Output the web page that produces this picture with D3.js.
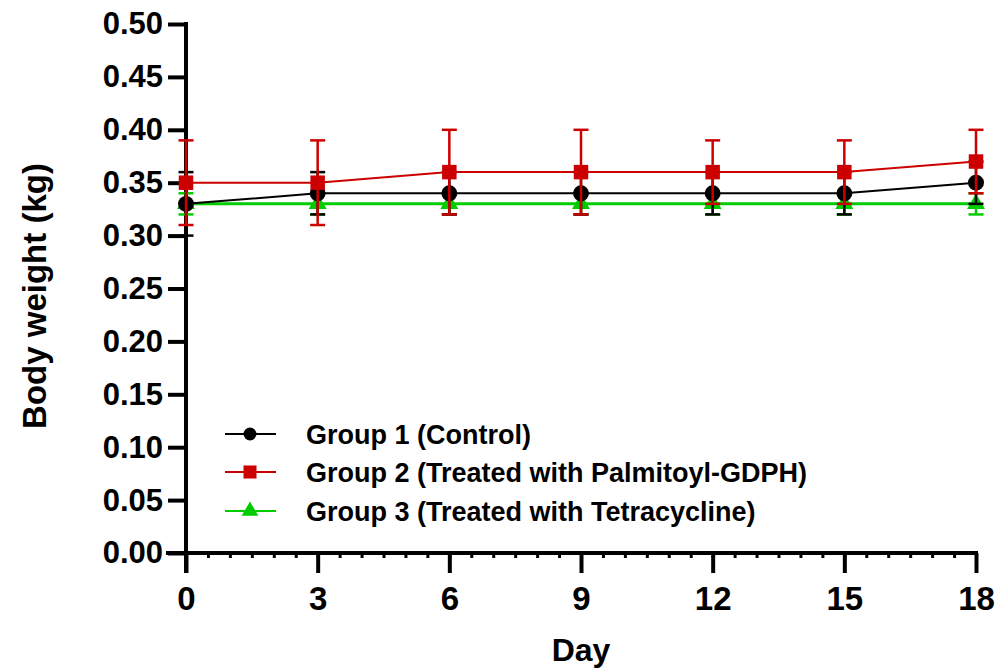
<!DOCTYPE html>
<html><head><meta charset="utf-8">
<script src="https://cdn.jsdelivr.net/npm/d3@7"></script>
<style>body{margin:0;background:#fff}svg{display:block}text{font-family:"Liberation Sans",Arial,sans-serif;font-weight:bold;fill:#000}</style>
</head><body><svg id="c" width="1005" height="670"></svg>
<script>
const days = [0, 3, 6, 9, 12, 15, 18];
const g1Mean = [0.33, 0.34, 0.34, 0.34, 0.34, 0.34, 0.35];
const g1Err  = [0.03, 0.02, 0.02, 0.02, 0.02, 0.02, 0.02];
const g2Mean = [0.35, 0.35, 0.36, 0.36, 0.36, 0.36, 0.37];
const g2Err  = [0.04, 0.04, 0.04, 0.04, 0.03, 0.03, 0.03];
const g3Mean = [0.33, 0.33, 0.33, 0.33, 0.33, 0.33, 0.33];
const g3Err  = [0.01, 0.01, 0.01, 0.01, 0.01, 0.01, 0.01];
const yTicks = [0, 0.05, 0.10, 0.15, 0.20, 0.25, 0.30, 0.35, 0.40, 0.45, 0.50];
const seriesNames = ["Group 1 (Control)", "Group 2 (Treated with Palmitoyl-GDPH)", "Group 3 (Treated with Tetracycline)"];
const colors = ["#000000", "#cc0000", "#00cc00"];

const svg = d3.select("#c");
const x = d3.scaleLinear().domain([0, 18]).range([186, 976]);
const y = d3.scaleLinear().domain([0, 0.5]).range([553, 24]);
const FONT = '"Liberation Sans",Arial,sans-serif';

const series = [
  {name: seriesNames[0], mean: g1Mean, err: g1Err, color: colors[0], shape: "circle", lw: 2, size: 200, legSize: 130},
  {name: seriesNames[1], mean: g2Mean, err: g2Err, color: colors[1], shape: "square", lw: 2, size: 210, legSize: 170},
  {name: seriesNames[2], mean: g3Mean, err: g3Err, color: colors[2], shape: "triangle", lw: 3, size: 140, legSize: 120}
];
const symType = {circle: d3.symbolCircle, square: d3.symbolSquare, triangle: d3.symbolTriangle};

// axes
const yAxis = d3.axisLeft(y).tickValues(yTicks).tickFormat(d3.format(".2f")).tickSize(18).tickPadding(5);
const gy = svg.append("g").attr("transform", `translate(${x(0)},0)`).call(yAxis);
gy.select(".domain").attr("stroke-width", 4).attr("d", `M0,${y(0.5) - 2}V${y(0) + 20}`);
gy.selectAll(".tick line").attr("stroke-width", 4);
gy.selectAll(".tick text").style("font-size", "31px").style("font-family", FONT).style("font-weight", "bold");

const minorX = d3.range(0, 18.01, 0.5);
const gxm = svg.append("g").attr("transform", `translate(0,${y(0)})`)
  .call(d3.axisBottom(x).tickValues(minorX).tickSize(5).tickFormat(""));
gxm.select(".domain").remove();
gxm.selectAll(".tick line").attr("stroke-width", 3);

const xAxis = d3.axisBottom(x).tickValues(days).tickSize(20).tickPadding(14);
const gx = svg.append("g").attr("transform", `translate(0,${y(0)})`).call(xAxis);
gx.select(".domain").attr("stroke-width", 4).attr("d", `M${x(0) - 20},0H${x(18) + 2}`);
gx.selectAll(".tick line").attr("stroke-width", 4);
gx.selectAll(".tick text").style("font-size", "33px").style("font-family", FONT).style("font-weight", "bold");

// titles
svg.append("text").attr("x", (x(0) + x(18)) / 2).attr("y", 661).attr("text-anchor", "middle").style("font-size", "32px").text("Day");
svg.append("text").attr("transform", `translate(46,296) rotate(-90)`).attr("text-anchor", "middle").style("font-size", "33px").text("Body weight (kg)");

// data
const line = d3.line().x((d, i) => x(days[i])).y(d => y(d));
const order = [2, 0, 1];
order.forEach(k => {
  const s = series[k];
  const g = svg.append("g");
  g.append("path").attr("d", line(s.mean)).attr("fill", "none").attr("stroke", s.color).attr("stroke-width", s.lw);
  days.forEach((d, i) => {
    const cx = x(d), lo = y(s.mean[i] - s.err[i]), hi = y(s.mean[i] + s.err[i]);
    g.append("line").attr("x1", cx).attr("x2", cx).attr("y1", lo).attr("y2", hi).attr("stroke", s.color).attr("stroke-width", 2.5);
    [lo, hi].forEach(yy => g.append("line").attr("x1", cx - 7.5).attr("x2", cx + 7.5).attr("y1", yy).attr("y2", yy).attr("stroke", s.color).attr("stroke-width", 2.5));
  });
  g.selectAll(".m").data(s.mean).enter().append("path")
    .attr("transform", (v, i) => `translate(${x(days[i])},${y(v)})`)
    .attr("d", d3.symbol().type(symType[s.shape]).size(s.size))
    .attr("fill", s.color);
});

// legend
const legY = [434, 472, 511];
series.forEach((s, i) => {
  const g = svg.append("g").attr("transform", `translate(0,${legY[i]})`);
  g.append("line").attr("x1", 225).attr("x2", 276).attr("y1", 0).attr("y2", 0).attr("stroke", s.color).attr("stroke-width", 2);
  g.append("path").attr("transform", "translate(250,0)").attr("d", d3.symbol().type(symType[s.shape]).size(s.legSize)).attr("fill", s.color);
  g.append("text").attr("x", 306).attr("y", 10).style("font-size", "27px").text(s.name);
});
</script></body></html>
